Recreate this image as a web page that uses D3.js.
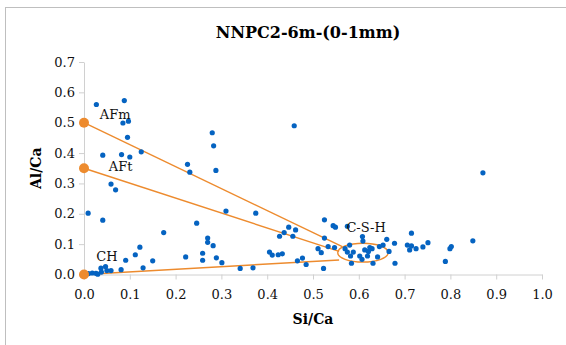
<!DOCTYPE html>
<html>
<head>
<meta charset="utf-8">
<script src="https://cdn.jsdelivr.net/npm/d3@7"></script>
<style>
  body { margin: 0; background: #fff; }
  svg { display: block; }
</style>
</head>
<body>
<svg width="566" height="345"></svg>
<script>
// measured points (Si/Ca, Al/Ca)
var siCa = [0.027,0.088,0.085,0.097,0.095,0.041,0.082,0.100,0.125,0.059,0.069,0.009,0.041,
  0.280,0.283,0.288,0.226,0.231,0.459,0.871,0.310,0.375,0.246,0.174,0.270,0.270,0.282,
  0.122,0.112,0.091,0.222,0.259,0.259,0.289,0.301,0.150,0.129,0.341,0.369,0.081,
  0.010,0.018,0.026,0.037,0.047,0.050,0.059,0.038,0.030,
  0.405,0.411,0.424,0.433,0.427,0.437,0.447,0.462,0.456,0.466,0.477,0.485,0.511,0.518,
  0.525,0.525,0.523,0.533,0.544,0.549,0.547,0.575,0.570,0.575,0.582,0.584,0.588,0.580,
  0.602,0.607,0.608,0.609,0.613,0.619,0.624,0.621,0.629,0.631,0.641,0.645,0.653,0.661,
  0.666,0.678,0.679,0.706,0.711,0.715,0.715,0.725,0.740,0.751,0.789,0.799,0.802,0.849];
var alCa = [0.560,0.573,0.499,0.505,0.452,0.393,0.395,0.387,0.404,0.298,0.279,0.202,0.179,
  0.467,0.424,0.343,0.363,0.337,0.490,0.335,0.209,0.202,0.169,0.138,0.120,0.106,0.095,
  0.090,0.065,0.047,0.058,0.070,0.047,0.055,0.039,0.045,0.022,0.020,0.022,0.016,
  0.003,0.005,0.004,0.021,0.026,0.013,0.013,0.008,0.001,
  0.074,0.064,0.065,0.068,0.126,0.138,0.156,0.147,0.126,0.045,0.054,0.033,0.085,0.072,
  0.180,0.120,0.020,0.092,0.161,0.156,0.089,0.159,0.085,0.074,0.061,0.037,0.074,0.097,
  0.061,0.050,0.125,0.110,0.081,0.061,0.089,0.076,0.085,0.037,0.058,0.092,0.097,0.116,
  0.076,0.103,0.037,0.097,0.081,0.136,0.094,0.085,0.091,0.105,0.043,0.085,0.092,0.111];

// phase end-members and tie lines to C-S-H
var phaseNames = ["AFm", "AFt", "CH"];
var phaseSi = [0, 0, 0];
var phaseAl = [0.5, 0.35, 0];
var tieEndSi = [0.564, 0.557, 0.557];
var tieEndAl = [0.092, 0.076, 0.048];
var labelSi = [0.068, 0.080, 0.050, 0.616];
var labelAl = [0.527, 0.357, 0.061, 0.154];
var labelText = ["AFm", "AFt", "CH", "C-S-H"];
var cshSi = 0.609, cshAl = 0.072, cshRx = 0.055, cshRy = 0.031;

var xTicks = [0,0.1,0.2,0.3,0.4,0.5,0.6,0.7,0.8,0.9,1.0];
var yTicks = [0,0.1,0.2,0.3,0.4,0.5,0.6,0.7];

var svg = d3.select("svg");
var serif = "'DejaVu Serif', serif";

svg.append("rect")
    .attr("x", 5.5).attr("y", 7.5)
    .attr("width", 600).attr("height", 400)
    .attr("fill", "none").attr("stroke", "#bfbfbf");

var x = d3.scaleLinear().domain([0, 1]).range([84, 542]);
var y = d3.scaleLinear().domain([0, 0.7]).range([274.5, 62]);

var xAxis = svg.append("g")
    .attr("transform", "translate(0," + y(0) + ")")
    .call(d3.axisBottom(x).tickValues(xTicks).tickFormat(d3.format(".1f")).tickSize(5).tickSizeOuter(0));
var yAxis = svg.append("g")
    .attr("transform", "translate(" + x(0) + ",0)")
    .call(d3.axisLeft(y).tickValues(yTicks).tickFormat(d3.format(".1f")).tickSize(5).tickSizeOuter(0));

[xAxis, yAxis].forEach(function(g){
  g.attr("font-family", serif).attr("font-size", 13);
  g.selectAll("path, line").attr("stroke", "#d0d0d0");
  g.selectAll("text").attr("fill", "#111");
});
xAxis.selectAll("text").attr("dy", "1.3em");
yAxis.selectAll("text").attr("x", -9);

svg.append("text")
    .attr("x", 308).attr("y", 38)
    .attr("text-anchor", "middle")
    .attr("font-family", serif).attr("font-size", 16).attr("font-weight", "bold")
    .text("NNPC2-6m-(0-1mm)");

svg.append("text")
    .attr("x", x(0.5)).attr("y", 324)
    .attr("text-anchor", "middle")
    .attr("font-family", serif).attr("font-size", 14).attr("font-weight", "bold")
    .text("Si/Ca");

svg.append("text")
    .attr("transform", "translate(41," + y(0.35) + ") rotate(-90)")
    .attr("text-anchor", "middle")
    .attr("font-family", serif).attr("font-size", 14).attr("font-weight", "bold")
    .text("Al/Ca");

var orange = "#ED8B2E";

svg.append("g").selectAll("line")
    .data(phaseNames)
    .enter().append("line")
    .attr("x1", function(d, i){ return x(phaseSi[i]); })
    .attr("y1", function(d, i){ return y(phaseAl[i]); })
    .attr("x2", function(d, i){ return x(tieEndSi[i]); })
    .attr("y2", function(d, i){ return y(tieEndAl[i]); })
    .attr("stroke", orange).attr("stroke-width", 1.4);

svg.append("ellipse")
    .attr("cx", x(cshSi)).attr("cy", y(cshAl))
    .attr("rx", x(cshRx) - x(0)).attr("ry", y(0) - y(cshRy))
    .attr("fill", "none").attr("stroke", orange).attr("stroke-width", 1.4);

svg.append("g").selectAll("circle")
    .data(siCa)
    .enter().append("circle")
    .attr("cx", function(d){ return x(d); })
    .attr("cy", function(d, i){ return y(alCa[i]); })
    .attr("r", 2.6)
    .attr("fill", "#0563C1");

svg.append("g").selectAll("circle")
    .data(phaseNames)
    .enter().append("circle")
    .attr("cx", function(d, i){ return x(phaseSi[i]); })
    .attr("cy", function(d, i){ return y(phaseAl[i]); })
    .attr("r", 5)
    .attr("fill", orange);

svg.append("g").selectAll("text")
    .data(labelText)
    .enter().append("text")
    .attr("x", function(d, i){ return x(labelSi[i]); })
    .attr("y", function(d, i){ return y(labelAl[i]); })
    .attr("text-anchor", "middle")
    .attr("dy", "0.35em")
    .attr("font-family", serif).attr("font-size", 13)
    .attr("fill", "#111")
    .text(function(d){ return d; });
</script>
</body>
</html>
